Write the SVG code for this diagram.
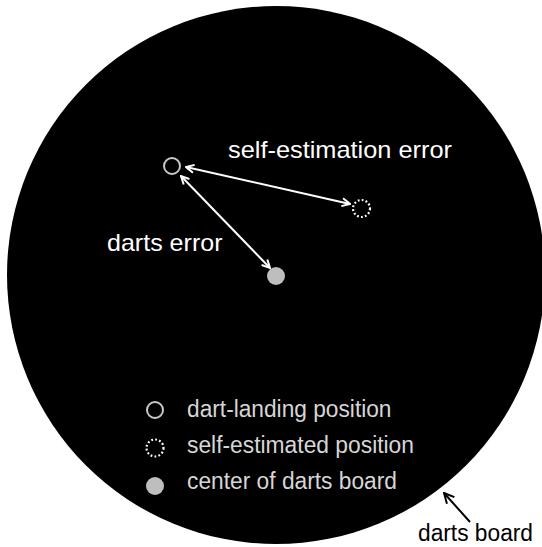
<svg xmlns="http://www.w3.org/2000/svg" width="542" height="547" viewBox="0 0 542 547">
<style>
.lbl{font-family:"Liberation Sans",Arial,sans-serif;font-size:24px;fill:#ffffff}
.leg{font-family:"Liberation Sans",Arial,sans-serif;font-size:23px;fill:#d6d6d6}
.dk{font-family:"Liberation Sans",Arial,sans-serif;font-size:23px;fill:#000000}
.open{fill:none;stroke:#c8c8c8;stroke-width:2}
.dot{fill:none;stroke:#ffffff;stroke-width:2.2;stroke-dasharray:1.8 2.2}
.fill{fill:#bebebe}
.conn{stroke:#ffffff;stroke-width:2;fill:none}
</style>
<defs>
<marker id="ah" viewBox="0 0 10 10" refX="9" refY="5" markerWidth="10" markerHeight="10" markerUnits="userSpaceOnUse" orient="auto-start-reverse">
<path d="M1,1 L9,5 L1,9" fill="none" stroke="#ffffff" stroke-width="2"/>
</marker>
<marker id="ahk" viewBox="0 0 12 12" refX="11" refY="6" markerWidth="12" markerHeight="12" markerUnits="userSpaceOnUse" orient="auto">
<path d="M1,1 L11,6 L1,11" fill="none" stroke="#000000" stroke-width="2"/>
</marker>
</defs>
<rect width="542" height="547" fill="#ffffff"/>
<g id="board">
<circle cx="276" cy="275" r="269" fill="#000000"/>
</g>
<g id="dart-landing">
<circle class="open" cx="172" cy="166" r="8"/>
</g>
<g id="self-estimated">
<circle class="dot" cx="361.5" cy="208.5" r="8.5"/>
</g>
<g id="center">
<circle class="fill" cx="276" cy="276" r="9"/>
</g>
<g id="connectors">
<line class="conn" x1="186" y1="167" x2="350" y2="204" marker-start="url(#ah)" marker-end="url(#ah)"/>
<line class="conn" x1="181" y1="176" x2="270" y2="268" marker-start="url(#ah)" marker-end="url(#ah)"/>
<line x1="470" y1="522" x2="444" y2="493" stroke="#000000" stroke-width="2" marker-end="url(#ahk)"/>
</g>
<g id="labels">
<text class="lbl" x="228" y="158" textLength="224" lengthAdjust="spacingAndGlyphs">self-estimation error</text>
<text class="lbl" x="107" y="251" textLength="115.5" lengthAdjust="spacingAndGlyphs">darts error</text>
</g>
<g id="legend">
<circle class="open" cx="155" cy="410" r="8"/>
<circle class="dot" cx="155" cy="448" r="8.5"/>
<circle class="fill" cx="155" cy="486" r="9"/>
<text class="leg" x="187" y="417" textLength="204.5" lengthAdjust="spacingAndGlyphs">dart-landing position</text>
<text class="leg" x="187" y="453" textLength="227" lengthAdjust="spacingAndGlyphs">self-estimated position</text>
<text class="leg" x="187" y="489" textLength="210" lengthAdjust="spacingAndGlyphs">center of darts board</text>
</g>
<g id="board-label">
<text class="dk" x="418" y="541" textLength="115" lengthAdjust="spacingAndGlyphs">darts board</text>
</g>
</svg>
